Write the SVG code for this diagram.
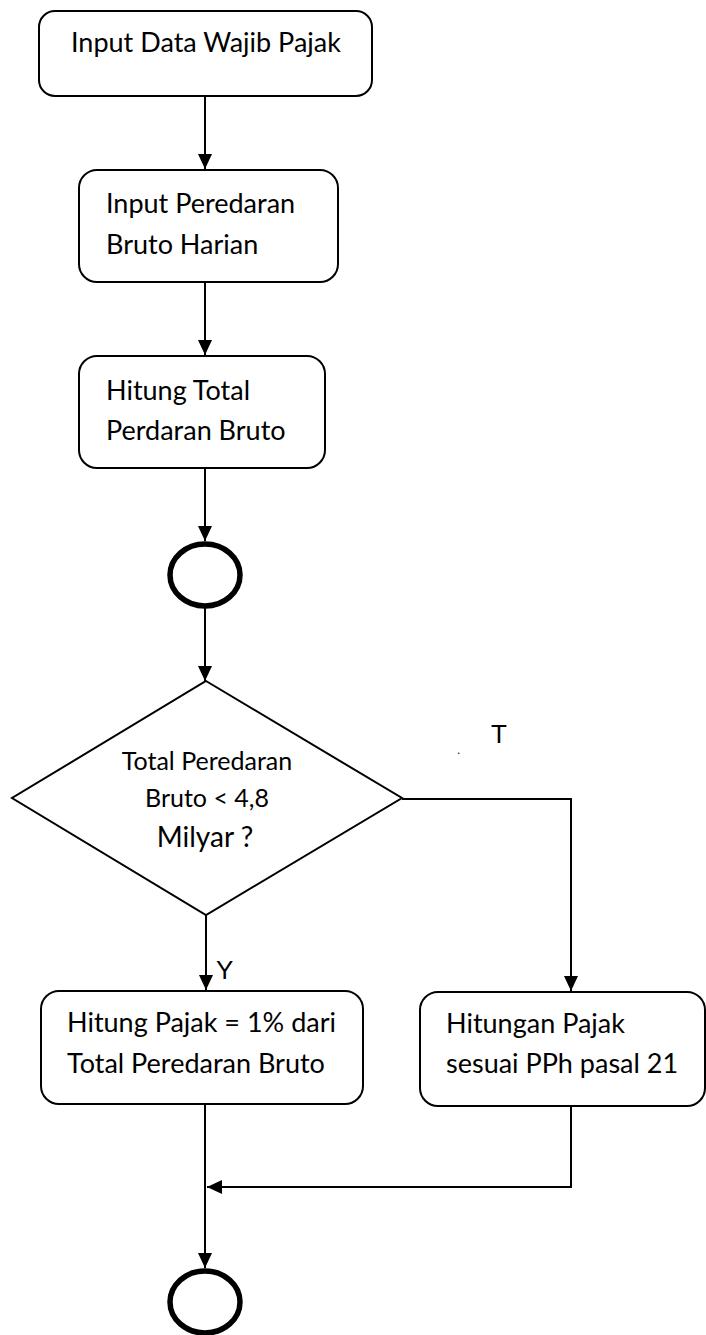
<svg xmlns="http://www.w3.org/2000/svg" width="706" height="1335" viewBox="0 0 706 1335">
<style>
.box{fill:#fff;stroke:#000;stroke-width:2}
.term{fill:#fff;stroke:#000;stroke-width:5.5}
.t{font-family:Lato,"Open Sans",sans-serif;font-size:27px;fill:#000}
.ts{font-family:Lato,"Open Sans",sans-serif;font-size:25px;fill:#000}
.lbl{font-family:"Liberation Sans",Arial,sans-serif;font-size:26px;fill:#000}
.c{fill:none;stroke:#000;stroke-width:2}
</style>
<defs>
<marker id="ah" markerUnits="userSpaceOnUse" markerWidth="16" markerHeight="16" viewBox="0 0 16 16" refX="15" refY="8" orient="auto">
<path d="M0,1 L15,8 L0,15 Z" fill="#000"/>
</marker>
</defs>
<g id="connectors">
<line class="c" x1="205" y1="96" x2="205" y2="169" marker-end="url(#ah)"/>
<line class="c" x1="205" y1="282" x2="205" y2="355" marker-end="url(#ah)"/>
<line class="c" x1="205" y1="468" x2="205" y2="541" marker-end="url(#ah)"/>
<line class="c" x1="205" y1="607" x2="205" y2="681" marker-end="url(#ah)"/>
<line class="c" x1="206" y1="915" x2="206" y2="990" marker-end="url(#ah)"/>
<polyline class="c" points="402,799 571,799 571,991" marker-end="url(#ah)"/>
<line class="c" x1="205" y1="1104" x2="205" y2="1268" marker-end="url(#ah)"/>
<polyline class="c" points="571,1106 571,1187 207,1187" marker-end="url(#ah)"/>
<text class="lbl" x="491" y="743">T</text>
<text class="lbl" x="457" y="754" style="font-size:12px">.</text>
<text class="lbl" x="216" y="979">Y</text>
</g>
<g id="n1">
<rect class="box" x="39" y="11" width="333" height="85" rx="16"/>
<text class="t" x="71" y="52">Input Data Wajib Pajak</text>
</g>
<g id="n2">
<rect class="box" x="79" y="170" width="259" height="112" rx="18"/>
<text class="t" x="106" y="213">Input Peredaran</text>
<text class="t" x="106" y="254">Bruto Harian</text>
</g>
<g id="n3">
<rect class="box" x="79" y="356" width="246" height="112" rx="18"/>
<text class="t" x="106" y="400">Hitung Total</text>
<text class="t" x="106" y="440">Perdaran Bruto</text>
</g>
<g id="start">
<ellipse class="term" cx="205" cy="575" rx="35" ry="31"/>
</g>
<g id="decision">
<polygon class="box" points="206,681 402,798 206,915 12,798"/>
<text class="ts" x="207" y="770" text-anchor="middle">Total Peredaran</text>
<text class="ts" x="207" y="807" text-anchor="middle">Bruto &lt; 4,8</text>
<text class="t" x="205" y="847" text-anchor="middle" style="font-size:28px">Milyar ?</text>
</g>
<g id="n4">
<rect class="box" x="41" y="991" width="322" height="113" rx="18"/>
<text class="t" x="67" y="1032">Hitung Pajak = 1% dari</text>
<text class="t" x="67" y="1073">Total Peredaran Bruto</text>
</g>
<g id="n5">
<rect class="box" x="420" y="992" width="285" height="114" rx="18"/>
<text class="t" x="446" y="1033">Hitungan Pajak</text>
<text class="t" x="446" y="1073">sesuai PPh pasal 21</text>
</g>
<g id="end">
<ellipse class="term" cx="205" cy="1302" rx="35" ry="31"/>
</g>
</svg>
